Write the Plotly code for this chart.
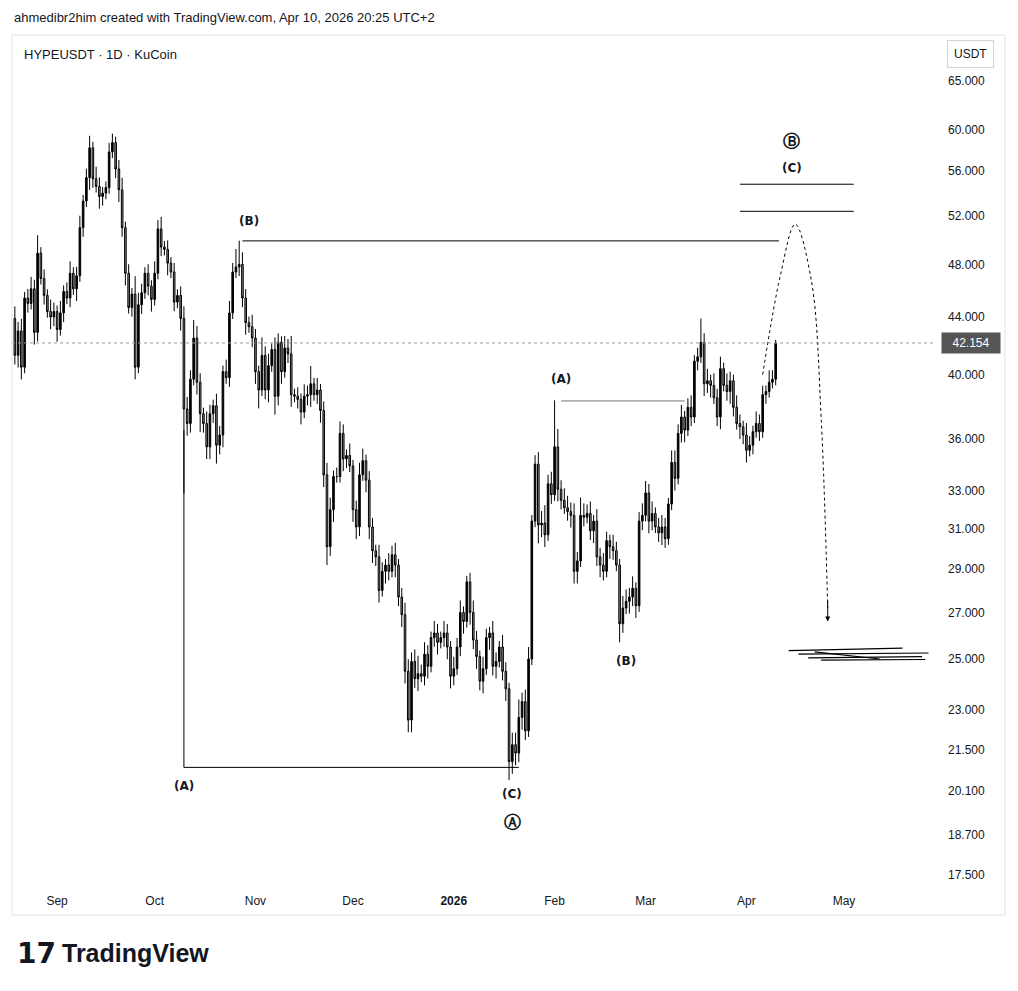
import math
import pandas as pd
import plotly.graph_objects as go

# daily candles, HYPEUSDT 1D
start_date = '2025-08-19'
first_open = 43.9
closes = [41.3, 43.0, 40.5, 45.4, 45.0, 46.1, 42.9, 48.9, 46.9, 45.6,
          44.4, 44.0, 44.4, 43.1, 44.3, 45.9, 45.4, 47.3, 46.1, 47.1,
          51.0, 53.3, 55.4, 58.2, 55.3, 54.6, 53.7, 54.0, 54.5, 57.8,
          58.7, 56.2, 54.3, 51.0, 47.3, 44.7, 45.7, 40.5, 44.9, 45.8,
          47.3, 46.3, 45.3, 47.3, 50.9, 49.4, 49.2, 48.1, 47.4, 45.1,
          45.6, 43.9, 37.8, 36.9, 39.7, 42.5, 39.5, 37.5, 36.9, 35.5,
          37.5, 38.0, 35.6, 36.2, 40.2, 39.8, 44.3, 47.4, 47.8, 48.0,
          45.4, 43.6, 43.3, 42.5, 40.2, 39.0, 41.3, 39.0, 40.6, 41.7,
          38.6, 42.2, 40.2, 41.8, 41.4, 38.7, 38.6, 38.4, 37.6, 38.6,
          38.7, 39.4, 38.7, 39.0, 37.7, 33.9, 30.1, 32.0, 33.8, 33.8,
          36.3, 34.8, 35.0, 34.4, 32.0, 31.1, 33.9, 34.7, 33.6, 31.1,
          29.9, 29.6, 28.0, 28.9, 29.2, 28.9, 29.7, 29.2, 27.7, 26.9,
          24.5, 22.6, 24.9, 24.2, 24.4, 24.3, 25.2, 24.7, 25.9, 26.1,
          25.7, 25.9, 26.1, 25.5, 24.3, 24.6, 25.5, 27.0, 26.6, 28.4,
          27.0, 25.8, 25.1, 24.1, 24.6, 25.9, 26.1, 24.7, 24.9, 25.5,
          24.5, 23.8, 21.1, 21.7, 21.4, 22.7, 23.3, 22.2, 25.0, 31.4,
          34.5, 31.2, 31.3, 30.7, 33.4, 32.8, 35.5, 33.1, 32.5, 32.1,
          31.9, 31.7, 28.9, 29.4, 31.7, 31.6, 31.8, 30.9, 31.4, 29.6,
          29.2, 28.9, 30.4, 30.1, 29.9, 29.2, 26.5, 27.2, 27.5, 27.7,
          28.1, 27.3, 31.4, 31.7, 32.9, 31.4, 31.8, 31.1, 30.8, 31.1,
          30.5, 32.3, 34.6, 33.7, 36.3, 37.3, 36.5, 37.9, 37.3, 40.9,
          41.2, 42.2, 39.4, 39.6, 39.3, 38.5, 37.3, 40.4, 39.3, 38.9,
          39.6, 37.9, 36.9, 36.7, 36.2, 35.3, 35.6, 36.4, 36.9, 36.4,
          38.7, 38.9, 39.5, 39.7, 42.154]

# wick lengths above / below the body, in percent
up_wick = [2, 1.5, 2, 1, 1.5, 2, 1.5, 3, 1, 1.5,
           1, 2, 1.5, 1, 2, 1, 1.5, 2, 1, 1.5,
           2, 1, 1.5, 2, 1, 2, 1.5, 1, 1, 1.5,
           1.5, 1, 1.5, 2, 1, 1.5, 1, 3, 2, 1.5,
           1, 1.5, 1, 2, 1.5, 2, 1, 1.5, 1, 1.5,
           1, 1.5, 2, 2, 1.5, 3, 2, 1.5, 1, 2,
           1.5, 1, 2, 1.5, 1, 2, 2, 1.5, 3, 4,
           2, 1.5, 1, 2, 1.5, 1, 3, 1.5, 2, 1,
           2, 1.5, 1, 2, 1.5, 3, 1, 1.5, 1, 2,
           1.5, 3, 1, 2, 1, 1.5, 2, 2, 1, 1.5,
           2, 1.5, 1, 2, 1, 1.5, 2, 2, 1, 1.5,
           1.5, 1, 2, 1.5, 1, 2, 1.5, 2, 1, 1.5,
           2, 2, 1.5, 2, 3, 1.5, 2, 1.5, 1, 2,
           1.5, 1, 2, 1.5, 1, 2, 1.5, 2, 1, 1,
           1.5, 2, 1.5, 1, 2, 1.5, 1, 2, 1.5, 1,
           2, 1.5, 1, 2, 2, 3, 1.5, 2, 2, 1,
           1.5, 2, 2, 3, 1.5, 2, 8, 3, 1.5, 2,
           2, 1.5, 2, 1.5, 3, 2, 1.5, 2, 1, 2,
           1.5, 2, 1.5, 1, 2, 1.5, 1, 2, 2, 1.5,
           2, 1, 1.5, 2, 2, 1.5, 2, 1, 1.5, 2,
           1.5, 1, 2, 2, 1.5, 2, 1, 1.5, 2, 1,
           1.5, 4, 1.5, 2, 1, 2, 1.5, 2, 1, 2,
           1.5, 1, 2, 1.5, 1, 2, 1.5, 1, 2, 1.5,
           1.5, 1, 2, 1.5, 0.5]
down_wick = [1.5, 2, 2, 1, 1.5, 1, 2, 1.5, 1, 1.5,
             1, 2, 1.5, 2, 1, 1.5, 1, 1.5, 1, 2,
             1, 1.5, 1, 2, 1.5, 1, 2, 1.5, 1, 1,
             1, 1.5, 2, 1.5, 2, 1, 1.5, 2, 1, 1.5,
             1, 1.5, 2, 1, 1, 1.5, 1, 2, 1, 1.5,
             1, 2, 13, 2, 1.5, 1, 2, 3, 1.5, 2,
             2, 1.5, 3, 1.5, 2, 1, 1.5, 1, 1, 1.5,
             1.5, 2, 1, 1.5, 2, 3, 1, 1.5, 2, 1,
             3, 1.5, 2, 1, 1.5, 2, 1, 1.5, 2, 1,
             1.5, 2, 1, 1.5, 2, 2, 3, 1.5, 2, 1,
             1, 2, 1.5, 1, 2, 2, 1.5, 1, 2, 2,
             2, 1.5, 2, 1, 2, 1.5, 1, 2, 1.5, 2,
             2, 2, 2, 1.5, 2, 1, 1.5, 2, 1, 1.5,
             2, 1, 1.5, 2, 2, 1.5, 1, 1.5, 2, 1,
             2, 1.5, 2, 1.5, 2, 1, 2, 1.5, 2, 1,
             1.5, 2, 3, 2, 2, 1.5, 2, 1.5, 1, 1,
             1, 3, 2, 2, 1, 1.5, 1, 2, 1.5, 1,
             1.5, 2, 2, 2, 1, 1.5, 1, 1.5, 2, 1.5,
             2, 1.5, 1, 2, 1.5, 1, 3, 1.5, 1, 2,
             1.5, 2, 1, 1.5, 1, 2, 1.5, 1, 1.5, 2,
             1.5, 1, 1, 2, 1, 1.5, 2, 1, 1.5, 1,
             1.5, 1, 2, 1.5, 2, 1, 1.5, 2, 1, 1.5,
             2, 1.5, 1, 2, 1.5, 2, 1, 1.5, 1, 1.5,
             1, 1.5, 1, 1, 1]

price_ticks = [17.5, 18.7, 20.1, 21.5, 23, 25, 27, 29, 31, 33, 36, 40, 44, 48, 52, 56, 60, 65]
month_ticks = ['2025-09-01', '2025-10-01', '2025-11-01', '2025-12-01', '2026-01-01',
               '2026-02-01', '2026-03-01', '2026-04-01', '2026-05-01']
month_labels = ['Sep', 'Oct', 'Nov', 'Dec', '<b>2026</b>', 'Feb', 'Mar', 'Apr', 'May']
last_price = 42.154

dates = pd.date_range(start_date, periods=len(closes), freq='D')
opens = [first_open] + closes[:-1]
highs = [max(o, c) * (1 + u / 100) for o, c, u in zip(opens, closes, up_wick)]
lows = [min(o, c) * (1 - d / 100) for o, c, d in zip(opens, closes, down_wick)]

INK = '#131722'
fig = go.Figure()
fig.add_trace(go.Candlestick(
    x=dates, open=opens, high=highs, low=lows, close=closes,
    increasing=dict(line=dict(color='black', width=1), fillcolor='black'),
    decreasing=dict(line=dict(color='black', width=1), fillcolor='#8c8c8c'),
    whiskerwidth=0, showlegend=False, hoverinfo='skip'))

def seg(x0, y0, x1, y1, color='black', width=1, dash=None):
    fig.add_shape(type='line', x0=x0, y0=y0, x1=x1, y1=y1, xref='x', yref='y',
                  line=dict(color=color, width=width, dash=dash))

# wave drawings
seg('2025-10-28', 49.9, '2026-04-11', 49.9)
seg('2025-10-10', 36.5, '2025-10-10', 20.9)
seg('2025-10-10', 20.9, '2026-01-21', 20.9)
seg('2026-02-03', 38.3, '2026-03-13', 38.3, color='#777777')
seg('2026-03-30', 54.8, '2026-05-04', 54.8)
seg('2026-03-30', 52.4, '2026-05-04', 52.4)

# dotted projected path
fig.add_trace(go.Scatter(
    x=['2026-04-06', '2026-04-11 12:00', '2026-04-16', '2026-04-21', '2026-04-24', '2026-04-26'],
    y=[40.0, 47.2, 51.3, 46.7, 37.2, 27.2],
    mode='lines', line=dict(color='black', width=1, dash='dot', shape='spline'),
    showlegend=False, hoverinfo='skip'))
fig.add_annotation(x='2026-04-26', y=math.log10(26.6), ax='2026-04-26', ay=math.log10(27.6),
                   xref='x', yref='y', axref='x', ayref='y', text='', showarrow=True,
                   arrowhead=2, arrowsize=1, arrowwidth=1, arrowcolor='black')

# scribble around 25
for xa, ya, xb, yb in [('2026-04-14', 25.35, '2026-05-19', 25.45),
                       ('2026-04-17', 25.2, '2026-05-27', 25.25),
                       ('2026-04-20', 25.05, '2026-05-25', 25.1),
                       ('2026-04-22', 25.3, '2026-05-12', 25.0),
                       ('2026-04-24', 24.95, '2026-05-26', 24.98)]:
    seg(xa, ya, xb, yb, width=1.2)

labels = [('2025-10-30', 51.6, '<b>(B)</b>', 12), ('2025-10-10', 20.25, '<b>(A)</b>', 12),
          ('2026-01-19', 20.0, '<b>(C)</b>', 12), ('2026-01-19', 19.1, '<b>Ⓐ</b>', 17),
          ('2026-02-03', 39.7, '<b>(A)</b>', 12), ('2026-02-23', 24.9, '<b>(B)</b>', 12),
          ('2026-04-15', 58.9, '<b>Ⓑ</b>', 17), ('2026-04-15', 56.3, '<b>(C)</b>', 12)]
for lx, ly, lt, ls in labels:
    fig.add_annotation(x=lx, y=math.log10(ly), text=lt, showarrow=False, xref='x', yref='y',
                       font=dict(size=ls, color=INK, family='DejaVu Sans'))

# current price line and tag
fig.add_shape(type='line', xref='paper', yref='y', x0=0, x1=1, y0=last_price, y1=last_price,
              line=dict(color='#9a9a9a', width=1, dash='dot'))
fig.add_annotation(xref='paper', yref='y', x=1.039, xanchor='center', y=math.log10(last_price),
                   text='42.154', showarrow=False, bgcolor='#555555',
                   font=dict(color='white', size=12), borderpad=3, width=52)

# frame and headers
fig.add_shape(type='rect', xref='paper', yref='paper', x0=0, x1=1.0758, y0=-0.0414, y1=1,
              line=dict(color='#e0e3eb', width=1))
fig.add_annotation(xref='paper', yref='paper', x=1.039, xanchor='center', y=0.9775,
                   yanchor='middle', text='USDT', showarrow=False, bordercolor='#d1d4dc',
                   borderwidth=1, borderpad=6, font=dict(size=12, color=INK))
fig.add_annotation(xref='paper', yref='paper', x=0.011, y=0.9775, xanchor='left', yanchor='middle',
                   text='HYPEUSDT · 1D · KuCoin', showarrow=False,
                   font=dict(size=13, color=INK))
fig.add_annotation(xref='paper', yref='paper', x=0, y=1.0213, xanchor='left', yanchor='middle',
                   text='ahmedibr2him created with TradingView.com, Apr 10, 2026 20:25 UTC+2',
                   showarrow=False, font=dict(size=13, color=INK))
fig.add_annotation(xref='paper', yref='paper', x=0.0033, y=-0.0864, xanchor='left', yanchor='middle',
                   text='<b>17</b>', showarrow=False, font=dict(size=28, color=INK, family='DejaVu Sans'))
fig.add_annotation(xref='paper', yref='paper', x=0.052, y=-0.0864, xanchor='left', yanchor='middle',
                   text='<b>TradingView</b>', showarrow=False, font=dict(size=25, color=INK))

# page has an 8px body margin, so the figure is 8px smaller and shifted
fig.update_layout(
    width=1010, height=983, margin=dict(l=4, r=83, t=27, b=111),
    paper_bgcolor='white', plot_bgcolor='white',
    font=dict(family='Liberation Sans', color=INK, size=12),
    xaxis=dict(range=['2025-08-18 03:00', '2026-05-29'], rangeslider=dict(visible=False),
               tickvals=month_ticks, ticktext=month_labels, showgrid=False,
               showline=False, zeroline=False, ticks='', ticklabelstandoff=12),
    yaxis=dict(type='log', range=[1.2393, 1.8459], side='right', tickvals=price_ticks,
               ticktext=['%.3f' % v for v in price_ticks], showgrid=False,
               zeroline=False, ticks='', ticklabelstandoff=12),
)

fig.write_html('out.html')
